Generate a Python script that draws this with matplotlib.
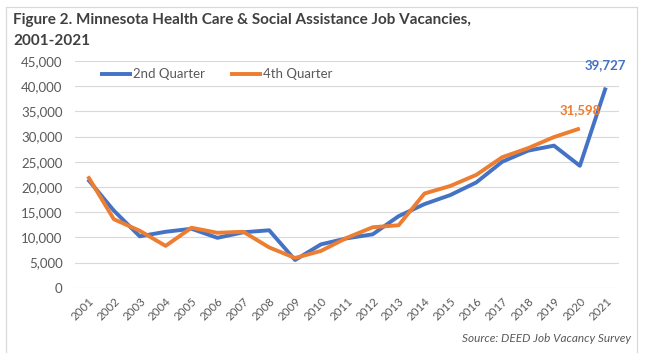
import numpy as np
import matplotlib.pyplot as plt
from matplotlib.lines import Line2D

plt.rcParams['font.family'] = ['Lato', 'DejaVu Sans']

years = [str(y) for y in range(2001, 2022)]
q2 = [21500, 15300, 10200, 11100, 11700, 9900, 11000, 11400, 5500, 8600,
      9800, 10600, 14200, 16600, 18400, 20900, 25000, 27200, 28200, 24200, 39727]
q4 = [22100, 13600, 11300, 8300, 11900, 10900, 11100, 8000, 5900, 7300,
      9900, 12000, 12400, 18700, 20200, 22400, 25900, 27700, 29900, 31598]

blue = '#4472C4'
orange = '#ED7D31'
grey = '#595959'

fig = plt.figure(figsize=(6.45, 3.63), dpi=100)
ax = fig.add_axes([75 / 645, 1 - 287.7 / 363, (618.7 - 75) / 645, (287.7 - 61) / 363])

x2 = np.arange(len(q2))
x4 = np.arange(len(q4))
ax.plot(x2, q2, color=blue, lw=2.8, label='2nd Quarter', solid_capstyle='butt')
ax.plot(x4, q4, color=orange, lw=2.8, label='4th Quarter', solid_capstyle='butt')

ax.set_xlim(-0.5, len(years) - 0.5)
ax.set_ylim(0, 45000)
ax.set_yticks(np.arange(0, 45001, 5000))
ax.set_yticklabels([f'{v:,}' for v in range(0, 45001, 5000)])
ax.set_xticks(x2)
ax.set_xticklabels(years, rotation=45, ha='right', rotation_mode='anchor')
ax.tick_params(axis='both', length=0, colors=grey, labelsize=9.5)
ax.tick_params(axis='x', labelsize=8.3, pad=6)
ax.tick_params(axis='y', pad=9)
ax.grid(axis='y', color='#d9d9d9', lw=0.8)
ax.set_axisbelow(True)
for s in ax.spines.values():
    s.set_visible(False)

# data labels on the last points
ax.annotate(f'{q2[-1]:,}', (x2[-1], q2[-1]), xytext=(0, 12), textcoords='offset points',
            ha='center', va='bottom', color=blue, fontsize=9.5, fontweight='bold')
ax.annotate(f'{q4[-1]:,}', (x4[-1], q4[-1]), xytext=(0, 9), textcoords='offset points',
            ha='center', va='bottom', color=orange, fontsize=9.5, fontweight='bold')

ax.legend(loc='upper left', bbox_to_anchor=(0.025, 1.02), ncol=2, frameon=False,
          fontsize=9.5, labelcolor=grey, handlelength=2.4, handletextpad=0.1,
          columnspacing=1.9)

fig.text(13 / 645, 1 - 20 / 363, 'Figure 2. Minnesota Health Care & Social Assistance Job Vacancies,',
         fontsize=11, fontweight='bold', color='#404040', va='center')
fig.text(13 / 645, 1 - 41 / 363, '2001-2021', fontsize=11, fontweight='bold',
         color='#404040', va='center')
fig.text(631 / 645, 1 - 339 / 363, 'Source: DEED Job Vacancy Survey', fontsize=8.5,
         style='italic', color=grey, ha='right', va='center')

# chart border
bc = '#d9d9d9'
fig.add_artist(Line2D([6 / 645, 6 / 645], [1 - 352 / 363, 1 - 7 / 363], color=bc, lw=0.9))
fig.add_artist(Line2D([637 / 645, 637 / 645], [1 - 352 / 363, 1 - 7 / 363], color=bc, lw=0.9))
fig.add_artist(Line2D([6 / 645, 637 / 645], [1 - 7 / 363, 1 - 7 / 363], color=bc, lw=0.9))

fig.savefig('out.png', dpi=100)
